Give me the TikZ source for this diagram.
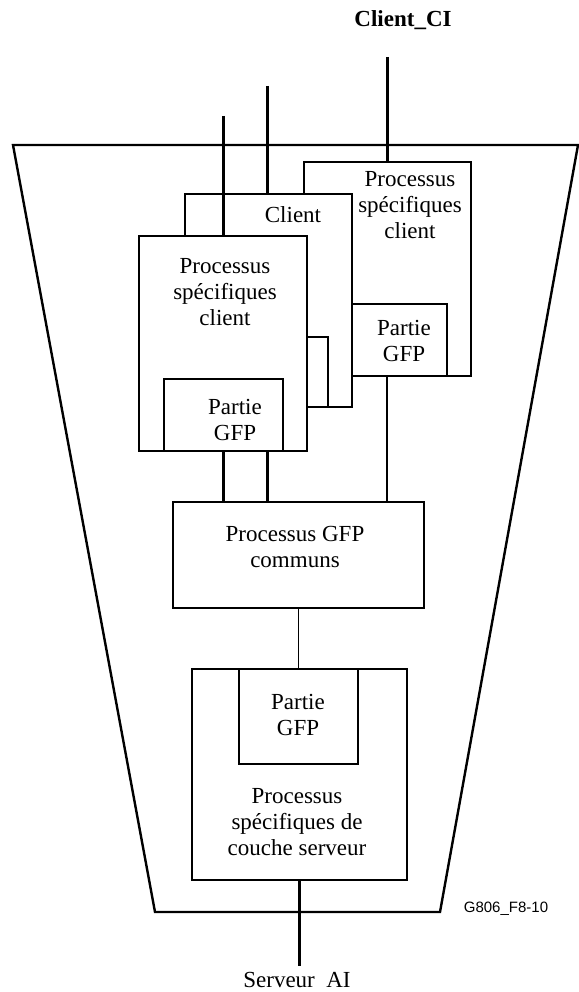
\documentclass[tikz,border=0pt]{standalone}
\usepackage{fontspec}
\setmainfont{Liberation Serif}
\setsansfont{Liberation Sans}
\usepackage{tikz}
\usetikzlibrary{calc}

\begin{document}
\begin{tikzpicture}[x=1pt,y=-1pt]
      \tikzset{box/.style={draw,
          line width=2pt,
          fill=white,
          inner sep=0pt,
          anchor=north west},
        link/.style={line width=3pt},
        txt/.style={align=center,
          font=\fontsize{23}{26}\selectfont}
      }
      \useasboundingbox (0,0) rectangle (578,992);
      % enveloppe
      \draw [line width=2.4pt] (13,145)--(578,145)--(440,912)--(155,912)--cycle;

      % clients empiles
      \node [box,minimum width=167pt,minimum height=214pt] (back) at (303,161) {};
      \node [box,minimum width=95pt,minimum height=72pt] (backgfp) at (351,303) {};
      \node [box,minimum width=167pt,minimum height=213pt] (mid) at (184,193) {};
      \node [box,minimum width=118pt,minimum height=70pt] (midgfp) at (209,336) {};
      \node [box,minimum width=168pt,minimum height=215pt] (front) at (138,235) {};
      \node [box,minimum width=119pt,minimum height=72pt] (frontgfp) at (163,378) {};

      \node [txt] (backtxt) at (410,205) {Processus\\sp\'ecifiques\\client};
      \node [txt] (backgfptxt) at (404,341) {Partie\\GFP};
      \node [txt] (midtxt) at (293,215) {Client};
      \node [txt] (fronttxt) at (225,292) {Processus\\sp\'ecifiques\\client};
      \node [txt] (frontgfptxt) at (235,420) {Partie\\GFP};

      % communs et serveur
      \node [box,minimum width=251pt,minimum height=106pt] (communs) at (172,501) {};
      \node [txt] (communstxt) at (295,547) {Processus GFP\\communs};
      \node [box,minimum width=215pt,minimum height=211pt] (server) at (191,668) {};
      \node [box,minimum width=119pt,minimum height=95pt] (servgfp) at (238,668) {};
      \node [txt] (servgfptxt) at (298,715) {Partie\\GFP};
      \node [txt] (servtxt) at (297,822) {Processus\\sp\'ecifiques de\\couche serveur};

      % entrees
      \coordinate (ci) at (387,57);
      \coordinate (cimid) at (267,86);
      \coordinate (cifront) at (223,116);
      \coordinate (sai) at (298,966);
      \draw [link] (ci)--(ci |- back.north);
      \draw [link] (cimid)--(cimid |- mid.north);
      \draw [link] (cifront)--(cifront |- front.north);

      \draw [link] (cifront |- frontgfp.south)--(cifront |- communs.north);
      \draw [link] (cimid |- frontgfp.south)--(cimid |- communs.north);
      \draw [line width=2.5pt] (ci |- backgfp.south)--(ci |- communs.north);
      \draw [line width=1.6pt] (communs.south)--(communs.south |- server.north);
      \draw [line width=3.6pt] (server.south)--(server.south |- sai);

      \node [txt,font=\fontsize{23}{26}\selectfont\bfseries] (citxt) at (403,20) {Client\_CI};
      \node [txt] (saitxt) at (297,980) {Serveur\ \ AI};
      \node [font=\sffamily\fontsize{15}{18}\selectfont] (ref) at (506,909) {G806\_F8-10};

    \end{tikzpicture}
\end{document}
